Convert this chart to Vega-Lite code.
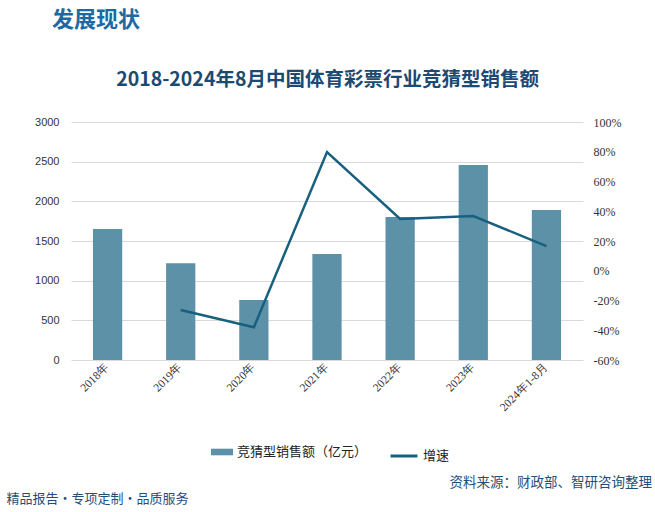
{
  "$schema": "https://vega.github.io/schema/vega-lite/v6.json",
  "width": 512,
  "height": 238,
  "autosize": {"type": "none"},
  "padding": {"left": 71, "top": 122, "right": 72, "bottom": 152},
  "background": "white",
  "title": {
    "text": "发展现状",
    "font": "Noto Sans CJK SC",
    "fontSize": 22,
    "fontWeight": "bold",
    "color": "#1d6aa3",
    "anchor": "start",
    "frame": "bounds",
    "baseline": "alphabetic",
    "dx": 46,
    "offset": 20
  },
  "data": {
    "values": [
      {"year": "2018年", "sales": 1650, "growth": null},
      {"year": "2019年", "sales": 1220, "growth": -0.264},
      {"year": "2020年", "sales": 756, "growth": -0.38},
      {"year": "2021年", "sales": 1336, "growth": 0.798},
      {"year": "2022年", "sales": 1802, "growth": 0.348},
      {"year": "2023年", "sales": 2458, "growth": 0.368},
      {"year": "2024年1-8月", "sales": 1891, "growth": 0.166}
    ]
  },
  "config": {"view": {"stroke": null}},
  "layer": [
    {
      "mark": {"type": "bar"},
      "encoding": {
        "x": {
          "field": "year", "type": "nominal", "sort": null,
          "scale": {"paddingInner": 0.6, "paddingOuter": 0.3},
          "axis": {
            "title": "精品报告・专项定制・品质服务",
            "titleX": -65, "titleY": 142, "titleAlign": "left", "titleAnchor": null,
            "titleBaseline": "alphabetic", "titleFont": "Noto Sans CJK SC", "titleFontSize": 13,
            "titleFontWeight": "normal", "titleColor": "#1f4e79",
            "labelAngle": -45, "labelAlign": "right", "labelBaseline": "middle",
            "labelFont": "Liberation Serif", "labelFontSize": 11.5, "labelColor": "#333333",
            "ticks": false, "domain": false, "labelPadding": 5
          }
        },
        "y": {
          "field": "sales", "type": "quantitative",
          "scale": {"domain": [0, 3000]},
          "axis": {
            "title": "2018-2024年8月中国体育彩票行业竞猜型销售额",
            "titleX": 256, "titleY": -37, "titleAngle": 0, "titleAlign": "center",
            "titleBaseline": "alphabetic", "titleFont": "Noto Sans CJK SC", "titleFontSize": 19.5,
            "titleFontWeight": "bold", "titleColor": "#1b4a73",
            "values": [0, 500, 1000, 1500, 2000, 2500, 3000],
            "format": "d",
            "grid": true, "gridColor": "#d9d9d9", "ticks": false, "domain": false,
            "labelPadding": 12, "labelFont": "Liberation Sans", "labelFontSize": 11, "labelColor": "#333333"
          }
        },
        "fill": {
          "datum": "竞猜型销售额（亿元）",
          "scale": {"range": ["#5d91a8"]},
          "legend": {
            "title": null, "orient": "none", "legendX": 140, "legendY": 319,
            "symbolType": "M-1,-0.3L1,-0.3L1,0.3L-1,0.3Z", "symbolSize": 484, "symbolStrokeWidth": 0,
            "labelFont": "Noto Sans CJK SC", "labelFontSize": 13, "labelColor": "#222222"
          }
        }
      }
    },
    {
      "mark": {"type": "line", "strokeWidth": 2.5},
      "encoding": {
        "x": {"field": "year", "type": "nominal", "sort": null},
        "y": {
          "field": "growth", "type": "quantitative",
          "scale": {"domain": [-0.6, 1.0]},
          "axis": {
            "orient": "right",
            "title": "资料来源：财政部、智研咨询整理",
            "titleX": -134, "titleY": 364, "titleAngle": 0, "titleAlign": "left",
            "titleBaseline": "alphabetic", "titleFont": "Noto Sans CJK SC", "titleFontSize": 13.5,
            "titleFontWeight": "normal", "titleColor": "#1f4e79",
            "values": [-0.6, -0.4, -0.2, 0, 0.2, 0.4, 0.6, 0.8, 1.0],
            "format": ".0%",
            "labelExpr": "replace(datum.label, '−', '-')",
            "grid": false, "ticks": false, "domain": false,
            "labelPadding": 10, "labelFont": "Liberation Serif", "labelFontSize": 12, "labelColor": "#333333"
          }
        },
        "stroke": {
          "datum": "增速",
          "scale": {"range": ["#17607e"]},
          "legend": {
            "title": null, "orient": "none", "legendX": 318, "legendY": 319,
            "symbolType": "stroke", "symbolSize": 729, "symbolStrokeWidth": 3,
            "labelFont": "Noto Sans CJK SC", "labelFontSize": 13, "labelColor": "#222222"
          }
        }
      }
    }
  ],
  "resolve": {"scale": {"y": "independent"}}
}
